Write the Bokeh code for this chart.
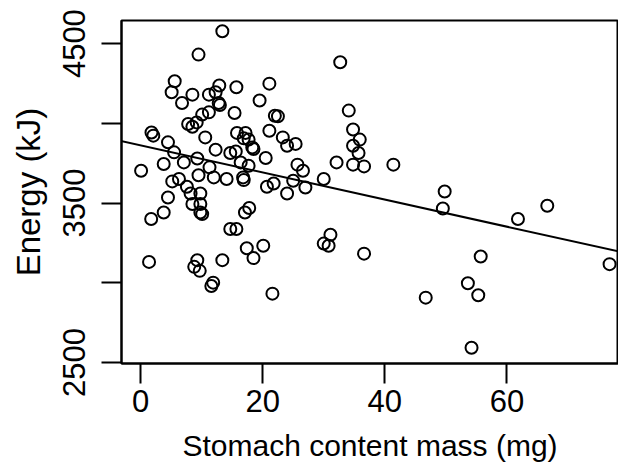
from bokeh.plotting import figure
from bokeh.models import Range1d, FixedTicker, Slope, ColumnDataSource
from bokeh.embed import file_html
from bokeh.resources import INLINE

# Data
stomach_mass = [
    13.4, 9.5, 5.6, 5.1, 8.5, 6.8, 12.9, 11.2, 12.3, 12.8, 13.0, 15.7, 21.1, 19.5, 15.4,
    11.2, 10.1, 9.2, 8.5, 7.8, 22.0, 22.5, 1.8, 2.1, 4.5, 10.6, 15.8, 17.2, 16.9, 17.7,
    18.3, 18.5, 21.1, 23.3, 24.0, 5.5, 3.8, 7.1, 9.3, 12.3, 14.7, 15.6, 20.5, 16.4, 17.7,
    0.1, 9.5, 11.3, 5.2, 6.3, 7.6, 12.0, 14.1, 16.8, 16.9, 20.7, 21.8, 24.0, 4.5, 8.2,
    9.8, 8.5, 9.8, 9.8, 10.1, 3.8, 1.75, 17.1, 17.8, 14.7, 15.7, 17.4, 20.1, 18.5, 1.4,
    9.3, 8.8, 9.7, 13.4, 11.9, 11.6, 21.6, 32.7, 34.1, 34.8, 35.9, 34.8, 35.7, 34.8, 36.6,
    32.1, 41.4, 30.0, 25.4, 25.7, 26.6, 25.0, 27.0, 49.8, 49.5, 31.1, 30.0, 30.8, 36.6, 46.7,
    66.6, 61.8, 76.8, 55.7, 53.6, 55.3, 54.2,
]
energy = [
    4578, 4431, 4264, 4195, 4180, 4128, 4237, 4180, 4195, 4128, 4115, 4226, 4249, 4143, 4065,
    4069, 4055, 4006, 3979, 3996, 4048, 4044, 3943, 3923, 3881, 3912, 3940, 3940, 3906, 3898,
    3849, 3839, 3954, 3912, 3860, 3818, 3745, 3755, 3780, 3835, 3814, 3824, 3783, 3755, 3734,
    3703, 3675, 3724, 3636, 3651, 3602, 3661, 3651, 3661, 3644, 3602, 3623, 3560, 3535, 3560,
    3560, 3494, 3494, 3441, 3431, 3441, 3400, 3441, 3469, 3337, 3337, 3217, 3232, 3155, 3131,
    3142, 3100, 3075, 3142, 3001, 2980, 2932, 4383, 4080, 3961, 3898, 3860, 3814, 3741, 3730,
    3755, 3741, 3651, 3871, 3741, 3703, 3640, 3598, 3573, 3466, 3301, 3246, 3232, 3183, 2907,
    3483, 3400, 3117, 3165, 2997, 2922, 2593,
]
fit_intercept = 3862
fit_slope = -8.5

x_ticks = [0, 20, 40, 60]
y_ticks = [2500, 3000, 3500, 4000, 4500]
y_tick_labels = {2500: "2500", 3000: "", 3500: "3500", 4000: "", 4500: "4500"}

FONT = "Liberation Sans"

p = figure(width=618, height=470, output_backend="svg", toolbar_location=None,
           x_range=Range1d(-3.11, 78.26), y_range=Range1d(2494, 4645),
           min_border_left=121, min_border_right=0, min_border_top=20, min_border_bottom=107)
p.background_fill_color = "white"
p.border_fill_color = "white"
p.outline_line_color = "black"
p.outline_line_width = 2
p.xgrid.visible = False
p.ygrid.visible = False

src = ColumnDataSource(dict(x=stomach_mass, y=energy))
p.scatter("x", "y", source=src, marker="circle", size=12, fill_color=None,
          line_color="black", line_width=2)
p.add_layout(Slope(gradient=fit_slope, y_intercept=fit_intercept,
                   line_color="black", line_width=2))

for ax in (p.xaxis[0], p.yaxis[0]):
    ax.axis_line_color = "black"
    ax.axis_line_width = 2
    ax.major_tick_line_color = "black"
    ax.major_tick_line_width = 2
    ax.major_tick_out = 20
    ax.major_tick_in = 0
    ax.minor_tick_line_color = None
    ax.major_label_text_font = FONT
    ax.major_label_text_font_size = "31px"
    ax.major_label_text_color = "black"
    ax.axis_label_text_font = FONT
    ax.axis_label_text_font_size = "30px"
    ax.axis_label_text_font_style = "normal"
    ax.axis_label_text_color = "black"

p.xaxis[0].ticker = FixedTicker(ticks=x_ticks)
p.xaxis[0].axis_label = "Stomach content mass (mg)"
p.xaxis[0].major_label_standoff = 6
p.xaxis[0].axis_label_standoff = 14

p.yaxis[0].ticker = FixedTicker(ticks=y_ticks)
p.yaxis[0].major_label_overrides = y_tick_labels
p.yaxis[0].major_label_orientation = "vertical"
p.yaxis[0].axis_label = "Energy (kJ)"
p.yaxis[0].axis_label_text_font_size = "33px"
p.yaxis[0].major_label_standoff = 16
p.yaxis[0].axis_label_standoff = 14

open("out.html", "w").write(file_html(p, INLINE))
